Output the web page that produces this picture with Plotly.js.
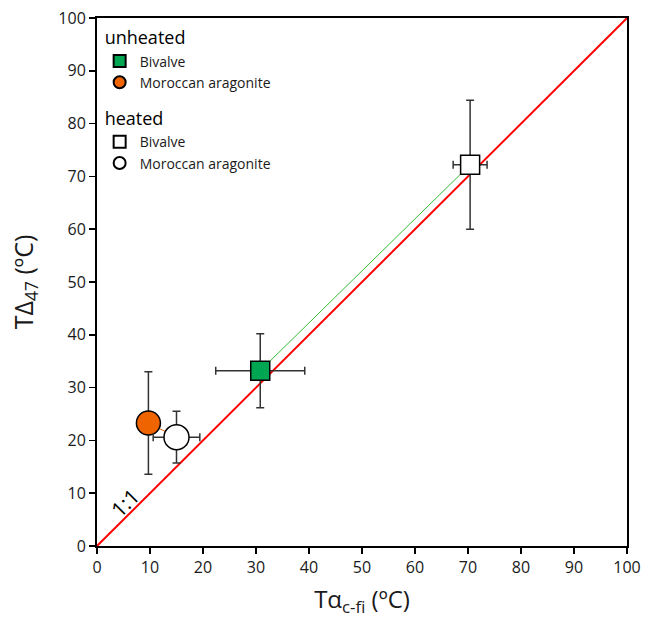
<!DOCTYPE html>
<html>
<head>
<meta charset="utf-8">
<script src="https://cdn.plot.ly/plotly-3.0.1.min.js"></script>
<style>html,body{margin:0;padding:0;background:#fff;}#chart{width:647px;height:622px;}</style>
</head>
<body>
<div id="chart"></div>
<script>
// Data
const groups = ["unheated", "unheated", "heated", "heated"];
const names = ["Bivalve", "Moroccan aragonite", "Bivalve", "Moroccan aragonite"];
const tAlpha = [30.8, 9.7, 70.4, 15.0];
const tAlphaErr = [8.4, 0, 3.2, 4.4];
const tDelta = [33.2, 23.3, 72.2, 20.6];
const tDeltaErr = [7.0, 9.7, 12.2, 4.9];
const symbols = ["square", "circle", "square", "circle"];
const fills = ["#00a651", "#f06400", "#ffffff", "#ffffff"];
const sizes = [19, 24, 19, 25];
const oneToOne = [0, 100];
const xTicks = [0, 10, 20, 30, 40, 50, 60, 70, 80, 90, 100];

const font = "Open Sans, Noto Sans, sans-serif";
const traces = [];

traces.push({
  x: oneToOne, y: oneToOne, mode: "lines",
  line: {color: "#ff0000", width: 2}, showlegend: false, hoverinfo: "skip"
});
// connectors between unheated and heated of the same material
traces.push({
  x: [tAlpha[0], tAlpha[2]], y: [tDelta[0], tDelta[2]], mode: "lines",
  line: {color: "#33bb33", width: 1}, showlegend: false, hoverinfo: "skip"
});
traces.push({
  x: [tAlpha[1], tAlpha[3]], y: [tDelta[1], tDelta[3]], mode: "lines",
  line: {color: "#f06400", width: 1}, showlegend: false, hoverinfo: "skip"
});

for (let i = 0; i < names.length; i++) {
  const t = {
    x: [tAlpha[i]], y: [tDelta[i]], mode: "markers", name: names[i],
    legendgroup: groups[i],
    legendgrouptitle: {text: groups[i], font: {size: 18, color: "#000", family: font}},
    marker: {symbol: symbols[i], size: sizes[i], color: fills[i], line: {color: "#000", width: 1.5}},
    error_y: {type: "data", array: [tDeltaErr[i]], visible: true, color: "#333", thickness: 1.5, width: 4}
  };
  if (tAlphaErr[i] > 0) {
    t.error_x = {type: "data", array: [tAlphaErr[i]], visible: true, color: "#333", thickness: 1.5, width: 4};
  }
  traces.push(t);
}

const axisCommon = {
  range: [0, 100], tickvals: xTicks, showgrid: false, zeroline: false,
  showline: true, linecolor: "#000", linewidth: 2, mirror: true,
  ticks: "outside", ticklen: 6, tickwidth: 1.5, tickcolor: "#000",
  tickfont: {size: 16, color: "#1a1a1a", family: font}
};

const layout = {
  width: 647, height: 622,
  margin: {l: 97, r: 20, t: 18, b: 76},
  paper_bgcolor: "#fff", plot_bgcolor: "#fff",
  font: {family: font},
  showlegend: true,
  legend: {
    x: 0.005, y: 0.998, xanchor: "left", yanchor: "top",
    bgcolor: "rgba(0,0,0,0)", font: {size: 14, color: "#1a1a1a", family: font},
    tracegroupgap: 12, itemsizing: "constant"
  },
  xaxis: Object.assign({}, axisCommon, {
    title: {text: "Tα<sub>c-fi</sub> (ºC)", font: {size: 24, color: "#1a1a1a", family: font}, standoff: 14}
  }),
  yaxis: Object.assign({}, axisCommon, {
    title: {text: "TΔ<sub>47</sub> (ºC)", font: {size: 25, color: "#1a1a1a", family: font}, standoff: 18}
  }),
  annotations: [{
    x: 5.2, y: 8.2, xref: "x", yref: "y", text: "1:1", showarrow: false,
    textangle: -45, font: {size: 21, color: "#000", family: font}
  }]
};

Plotly.newPlot("chart", traces, layout, {displayModeBar: false, staticPlot: true});
</script>
</body>
</html>
